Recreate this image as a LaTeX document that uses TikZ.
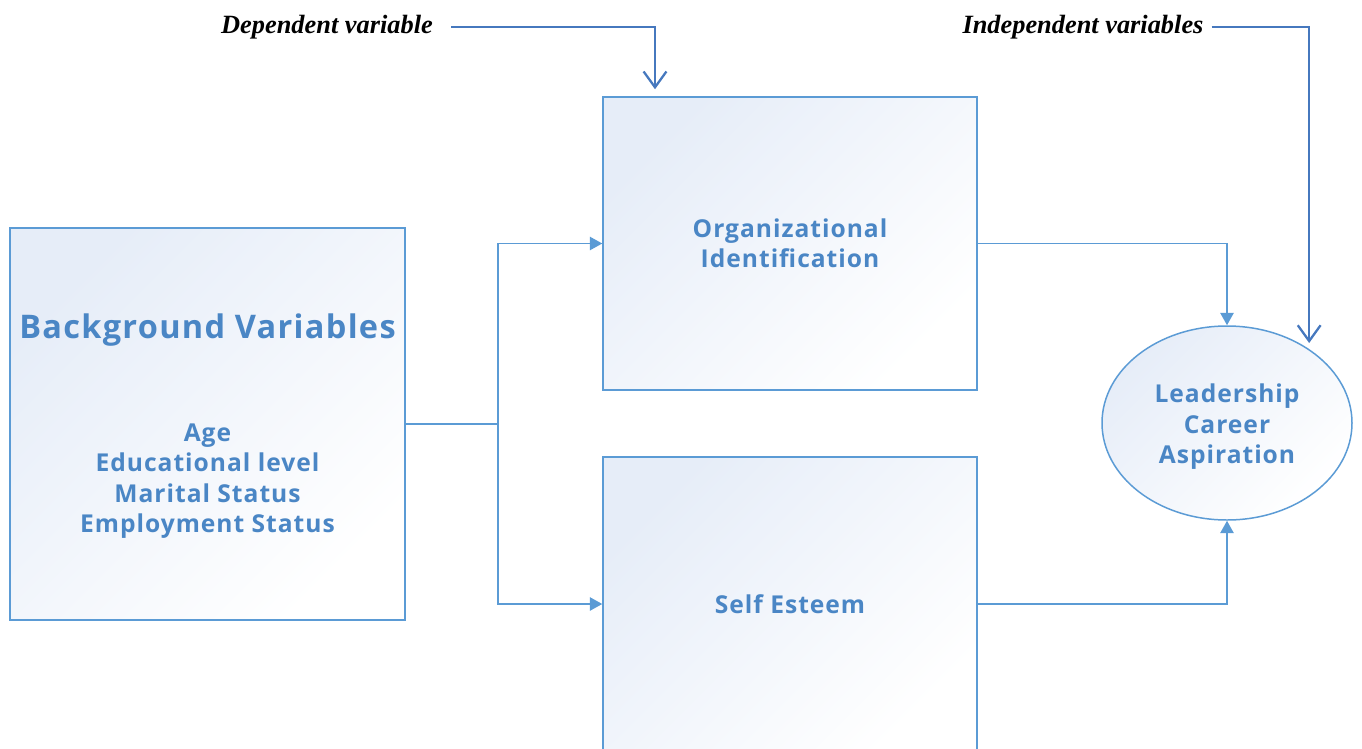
\documentclass[tikz,border=0pt]{standalone}
\usepackage{fontspec}
\usepackage{xcolor}
\usepackage{tikz}
\usetikzlibrary{
	arrows.meta,shapes.geometric,calc
}
\newfontfamily\boxfont{Open Sans}[LetterSpace=4]
\newfontfamily\notefont{Liberation Serif}
\definecolor{boxline}{RGB}{91,155,213}
\definecolor{boxtext}{RGB}{74,134,197}
\definecolor{noteline}{RGB}{70,120,190}
\definecolor{boxfill}{RGB}{230,237,248}
\tikzset{
	varbox/.style={draw=boxline, line width=0.85pt, top color=boxfill,
		bottom color=white, shading angle=45, inner sep=0pt},
	vartext/.style={text=boxtext, font=\boxfont\bfseries\fontsize{14}{17.3}\selectfont,
		align=center},
	notetext/.style={font=\notefont\bfseries\itshape\fontsize{15}{17}\selectfont},
	flow/.style={draw=boxline, line width=1pt,
		-{Triangle[length=7pt,width=7.5pt]}},
	note/.style={draw=noteline, line width=1.3pt,
		-{Straight Barb[length=9pt,width=13pt,line width=1.3pt]}}
}

\begin{document}
\begin{tikzpicture}
			\useasboundingbox (0,0) rectangle (27.24,-14.98);
			\node[varbox, minimum width=7.9cm, minimum height=7.84cm] (BG) at (4.15,-8.48) {};
			\node[vartext, font=\boxfont\bfseries\fontsize{18.5}{20}\selectfont] (BGtitle) at (4.15,-6.6) {
					Background Variables};
			\node[vartext] (BGlist) at (4.15,-9.62) {
					Age\\ Educational level\\ Marital Status\\ Employment Status};
			\node[varbox, minimum width=7.48cm, minimum height=5.86cm] (OI) at (15.8,-4.87) {};
			\node[vartext] (OItext) at (OI.center) {
					Organizational\\ Identification};
			\node[varbox, minimum width=7.48cm, minimum height=5.88cm] (SE) at (15.8,-12.08) {};
			\node[vartext] (SEtext) at (SE.center) {
					Self Esteem};
			\node[varbox, ellipse, minimum width=5cm, minimum height=3.88cm] (LCA) at (24.54,-8.46) {};
			\node[vartext] (LCAtext) at ([yshift=-0.08cm]LCA.center) {
					Leadership\\ Career\\ Aspiration};
			\node[notetext] (DV) at (6.54,-0.54) {Dependent variable};
			\node[notetext] (IV) at (21.66,-0.54) {Independent variables};
			\coordinate (J) at (9.96,-8.48);
			%
			\draw[draw=boxline, line width=1pt] (BG.east) -- (J);
			\draw[flow] (J) |- (OI.west);
			\draw[flow] (J) |- (SE.west);
			\draw[flow] (OI.east) -| (LCA.north);
			\draw[flow] (SE.east) -| (LCA.south);
			\draw[note, shorten <=0.25cm, shorten >=0.14cm] (DV.east) -| ([xshift=-2.7cm]OI.north);
			\draw[note, shorten <=0.04cm, shorten >=0.12cm] (IV.east) -| (LCA.42);
		\end{tikzpicture}
\end{document}
